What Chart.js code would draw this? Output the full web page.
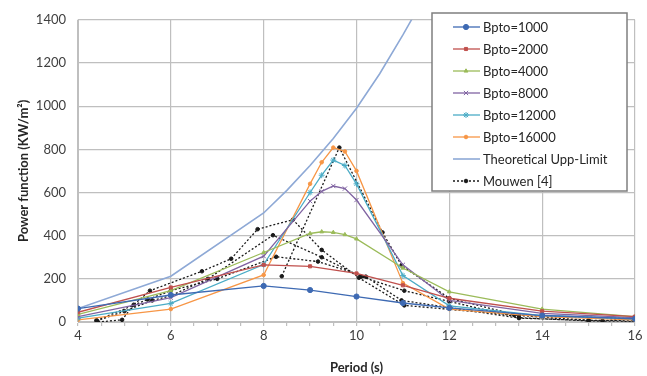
<!DOCTYPE html>
<html>
<head>
<meta charset="utf-8">
<script src="https://cdn.jsdelivr.net/npm/chart.js@4.4.1/dist/chart.umd.min.js"></script>
<style>
  html, body { margin: 0; padding: 0; background: #fff; }
  #wrap { width: 647px; height: 376px; }
</style>
</head>
<body>
<div id="wrap"><canvas id="chart_powerFunction"></canvas></div>
<script>
// periods (s) at which the Bpto curves were sampled
var shortPeriods = [4, 6, 8, 9, 10, 11, 12, 14, 16];
var peakPeriods = [4, 6, 8, 9, 9.25, 9.5, 9.75, 10, 11, 12, 14, 16];

var bpto1000 = [62, 125, 167, 148, 118, 88, 65, 30, 15];
var bpto2000 = [45, 160, 265, 258, 225, 170, 110, 50, 25];
var bpto4000 = [35, 145, 322, 410, 418, 415, 405, 385, 250, 140, 60, 25];
var bpto8000 = [25, 113, 305, 560, 605, 630, 618, 565, 265, 100, 40, 20];
var bpto12000 = [18, 86, 266, 600, 680, 750, 725, 640, 215, 75, 30, 15];
var bpto16000 = [10, 60, 218, 640, 740, 808, 790, 700, 180, 60, 25, 10];

var theoryPeriods = [4, 6, 8, 8.5, 9, 9.5, 10, 10.5, 11, 11.5];
var theoryValues = [62, 212, 505, 610, 725, 850, 990, 1150, 1330, 1520];

// Mouwen [4]: several curves, null separates them
var mouwenPeriods = [8.39, 9.63, 10.56, 10.97, 12, 13.5, 15, 16, null,
  4.43, 4.95, 5.2, 5.55, 6.67, 7.3, 7.87, 8.63, 9.25, 10.05, 11.03, 13.4, 16, null,
  4.4, 5.0, 5.6, 6.0, 6.8, 8.2, 9.25, 10.1, 11.03, 12, 13.5, 15, 16, null,
  4.4, 5.5, 6.0, 7.0, 8.27, 9.17, 10.2, 10.97, 13.5, 15.3, 16];
var mouwenValues = [212, 808, 415, 262, 110, 30, 8, 5, null,
  0, 10, 80, 145, 235, 293, 430, 474, 334, 205, 77, 32, 15, null,
  5, 50, 100, 122, 200, 402, 300, 210, 145, 95, 20, 5, 3, null,
  8, 104, 145, 200, 302, 280, 210, 100, 18, 5, 20];

var xTicks = [4, 6, 8, 10, 12, 14, 16];

function pairs(xs, ys) {
  return xs.map(function(x, i) { return { x: x, y: ys[i] }; });
}

function series(label, xs, ys, color, pointStyle, radius) {
  return {
    label: label,
    data: pairs(xs, ys),
    borderColor: color,
    backgroundColor: color,
    borderWidth: 1.3,
    pointStyle: pointStyle,
    pointRadius: radius,
    pointBorderWidth: 1,
    pointHoverRadius: radius
  };
}

var datasets = [
  series('Bpto=1000', shortPeriods, bpto1000, '#3E6AB3', 'circle', 2.6),
  series('Bpto=2000', shortPeriods, bpto2000, '#C0504D', 'rect', 2.2),
  series('Bpto=4000', peakPeriods, bpto4000, '#9BBB59', 'triangle', 2.2),
  series('Bpto=8000', peakPeriods, bpto8000, '#8064A2', 'crossRot', 3),
  series('Bpto=12000', peakPeriods, bpto12000, '#4BACC6', 'star', 3),
  series('Bpto=16000', peakPeriods, bpto16000, '#F79646', 'circle', 1.8),
  series('Theoretical Upp-Limit', theoryPeriods, theoryValues, '#8EA9D6', 'circle', 0),
  series('Mouwen [4]', mouwenPeriods, mouwenValues, '#1a1a1a', 'circle', 1.8)
];
datasets[6].borderWidth = 1.6;
datasets[7].borderDash = [2, 2];
datasets[7].spanGaps = false;

var boxLegend = {
  id: 'boxLegend',
  afterDraw: function(chart) {
    var ctx = chart.ctx;
    var left = 432, top = 13, w = 195, h = 178, row = 22;
    ctx.save();
    ctx.fillStyle = '#ffffff';
    ctx.fillRect(left, top, w, h);
    ctx.strokeStyle = '#7f7f7f';
    ctx.lineWidth = 1.5;
    ctx.strokeRect(left, top, w, h);
    ctx.font = '13px Lato, "Open Sans", sans-serif';
    ctx.textBaseline = 'middle';
    chart.data.datasets.forEach(function(ds, i) {
      var y = top + 14 + i * row;
      ctx.strokeStyle = ds.borderColor;
      ctx.lineWidth = ds.borderWidth;
      ctx.setLineDash(ds.borderDash || []);
      ctx.beginPath();
      ctx.moveTo(left + 21, y);
      ctx.lineTo(left + 48, y);
      ctx.stroke();
      ctx.setLineDash([]);
      if (ds.pointRadius > 0) {
        ctx.fillStyle = ds.borderColor;
        ctx.lineWidth = 1;
        Chart.helpers.drawPoint(ctx, { pointStyle: ds.pointStyle, radius: ds.pointRadius, rotation: 0, borderWidth: 1 }, left + 34, y);
      }
      ctx.fillStyle = '#262626';
      ctx.fillText(ds.label, left + 51, y + 1);
    });
    ctx.restore();
  }
};

var chart_powerFunction = new Chart(document.getElementById('chart_powerFunction'), {
  type: 'line',
  data: { datasets: datasets },
  options: {
    animation: false,
    responsive: true,
    maintainAspectRatio: false,
    layout: { padding: { top: 12, right: 12, left: 0, bottom: 0 } },
    plugins: {
      legend: { display: false },
      tooltip: { enabled: false }
    },
    scales: {
      x: {
        type: 'linear',
        min: 4,
        max: 16,
        afterFit: function(scale) { scale.height = 54; },
        afterBuildTicks: function(scale) {
          var t = [];
          for (var v = 4; v <= 16.001; v += 0.5) t.push({ value: v });
          scale.ticks = t;
        },
        ticks: {
          autoSkip: false,
          maxRotation: 0,
          padding: 2,
          color: '#404040',
          font: { family: 'Lato, "Open Sans", sans-serif', size: 13 },
          callback: function(value) {
            return xTicks.indexOf(value) >= 0 ? String(value) : '';
          }
        },
        grid: {
          color: function(c) {
            return c.tick && xTicks.indexOf(c.tick.value) >= 0 ? '#bfbfbf' : 'rgba(0,0,0,0)';
          },
          tickColor: '#bfbfbf',
          tickLength: 4,
          lineWidth: 1.2
        },
        border: { color: '#bfbfbf' },
        title: {
          display: true,
          text: 'Period (s)',
          color: '#262626',
          font: { family: 'Lato, "Open Sans", sans-serif', size: 13, weight: 'bold' },
          padding: { top: 0, bottom: 0 }
        }
      },
      y: {
        type: 'linear',
        min: 0,
        max: 1400,
        afterFit: function(scale) { scale.width = 78; },
        ticks: {
          stepSize: 200,
          padding: 12,
          color: '#404040',
          font: { family: 'Lato, "Open Sans", sans-serif', size: 13 },
          callback: function(value) { return String(value); }
        },
        grid: { color: '#bfbfbf', lineWidth: 1.2, tickLength: 0 },
        border: { color: '#bfbfbf' },
        title: {
          display: true,
          text: 'Power function (KW/m\u00B2)',
          color: '#262626',
          font: { family: 'Lato, "Open Sans", sans-serif', size: 13, weight: 'bold' },
          padding: { top: 16, bottom: 4 }
        }
      }
    }
  },
  plugins: [boxLegend]
});
</script>
</body>
</html>
